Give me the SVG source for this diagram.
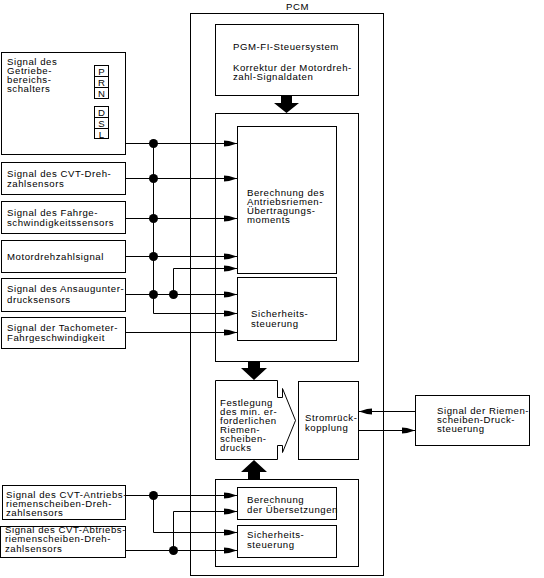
<svg xmlns="http://www.w3.org/2000/svg" width="544" height="578" viewBox="0 0 544 578">
<style>
.b{fill:#fff;stroke:#000;stroke-width:1}
.t{font-family:"Liberation Sans",Arial,sans-serif;font-size:9.6px;letter-spacing:0.55px;fill:#000}
.c{fill:none;stroke:#000;stroke-width:1}
.k{fill:#000;stroke:none}
</style>
<defs>
<marker id="ah" markerWidth="13" markerHeight="8" refX="13" refY="4" orient="auto" markerUnits="userSpaceOnUse">
<path d="M0,1 L5,1.5 L13,4 L5,6.5 L0,7 Z" fill="#000"/>
</marker>
</defs>
<rect width="544" height="578" fill="#fff"/>

<g id="pcm">
<rect class="b" x="190.5" y="13.5" width="193" height="562"/>
<text class="t" x="286" y="10">PCM</text>
</g>

<g id="pgm">
<rect class="b" x="215.5" y="24.5" width="143" height="71"/>
<text class="t" x="233" y="50">PGM-FI-Steuersystem</text>
<text class="t" x="233" y="71">Korrektur der Motordreh-</text>
<text class="t" x="233" y="80">zahl-Signaldaten</text>
</g>

<g id="upperBlock">
<rect class="b" x="215.5" y="113.5" width="143" height="248"/>
</g>
<g id="berechnungMoment">
<rect class="b" x="237.5" y="126.5" width="99" height="147"/>
<text class="t" x="247" y="196">Berechnung des</text>
<text class="t" x="247" y="205">Antriebsriemen-</text>
<text class="t" x="247" y="214">Übertragungs-</text>
<text class="t" x="247" y="223">moments</text>
</g>
<g id="sicherheit1">
<rect class="b" x="237.5" y="277.5" width="99" height="63"/>
<text class="t" x="251" y="317">Sicherheits-</text>
<text class="t" x="251" y="327">steuerung</text>
</g>

<g id="festlegung">
<path class="b" d="M215.5,380.5 H277.5 V397.5 H282.5 V388.5 L295.5,420.5 L282.5,452.5 V445.5 H277.5 V459.5 H215.5 Z"/>
<text class="t" x="220" y="406">Festlegung</text>
<text class="t" x="220" y="415">des min. er-</text>
<text class="t" x="220" y="424">forderlichen</text>
<text class="t" x="220" y="433">Riemen-</text>
<text class="t" x="220" y="442">scheiben-</text>
<text class="t" x="220" y="451">drucks</text>
</g>

<g id="strom">
<rect class="b" x="298.5" y="381.5" width="60" height="78"/>
<text class="t" x="305" y="421">Stromrück-</text>
<text class="t" x="305" y="431">kopplung</text>
</g>

<g id="riemenSignal">
<rect class="b" x="415.5" y="395.5" width="114" height="50"/>
<text class="t" x="437" y="414">Signal der Riemen-</text>
<text class="t" x="437" y="423">scheiben-Druck-</text>
<text class="t" x="437" y="432">steuerung</text>
</g>

<g id="lowerBlock">
<rect class="b" x="215.5" y="479.5" width="143" height="87"/>
</g>
<g id="berechnungUeb">
<rect class="b" x="237.5" y="487.5" width="99" height="32"/>
<text class="t" x="247" y="503">Berechnung</text>
<text class="t" x="247" y="513">der Übersetzungen</text>
</g>
<g id="sicherheit2">
<rect class="b" x="237.5" y="525.5" width="99" height="32"/>
<text class="t" x="247" y="538">Sicherheits-</text>
<text class="t" x="247" y="548">steuerung</text>
</g>

<g id="sig1">
<rect class="b" x="1.5" y="52.5" width="124" height="102"/>
<text class="t" x="7" y="65">Signal des</text>
<text class="t" x="7" y="74">Getriebe-</text>
<text class="t" x="7" y="83">bereichs-</text>
<text class="t" x="7" y="92">schalters</text>
<rect class="b" x="94.5" y="65.5" width="14" height="11"/>
<rect class="b" x="94.5" y="76.5" width="14" height="11"/>
<rect class="b" x="94.5" y="87.5" width="14" height="11"/>
<rect class="b" x="94.5" y="106.5" width="14" height="11"/>
<rect class="b" x="94.5" y="117.5" width="14" height="11"/>
<rect class="b" x="94.5" y="128.5" width="14" height="10"/>
<text class="t" x="101.8" y="75" text-anchor="middle">P</text>
<text class="t" x="101.8" y="86" text-anchor="middle">R</text>
<text class="t" x="101.8" y="97" text-anchor="middle">N</text>
<text class="t" x="101.8" y="116" text-anchor="middle">D</text>
<text class="t" x="101.8" y="127" text-anchor="middle">S</text>
<text class="t" x="101.8" y="137.5" text-anchor="middle">L</text>
</g>
<g id="sig2">
<rect class="b" x="1.5" y="162.5" width="124" height="32"/>
<text class="t" x="7" y="177">Signal des CVT-Dreh-</text>
<text class="t" x="7" y="187">zahlsensors</text>
</g>
<g id="sig3">
<rect class="b" x="1.5" y="201.5" width="124" height="32"/>
<text class="t" x="7" y="216">Signal des Fahrge-</text>
<text class="t" x="7" y="226">schwindigkeitssensors</text>
</g>
<g id="sig4">
<rect class="b" x="1.5" y="240.5" width="124" height="32"/>
<text class="t" x="7" y="260">Motordrehzahlsignal</text>
</g>
<g id="sig5">
<rect class="b" x="1.5" y="278.5" width="124" height="33"/>
<text class="t" x="7" y="292">Signal des Ansaugunter-</text>
<text class="t" x="7" y="303">drucksensors</text>
</g>
<g id="sig6">
<rect class="b" x="1.5" y="317.5" width="124" height="31"/>
<text class="t" x="7" y="331">Signal der Tachometer-</text>
<text class="t" x="7" y="341">Fahrgeschwindigkeit</text>
</g>
<g id="sig7">
<rect class="b" x="2.5" y="485.5" width="123" height="34"/>
<text class="t" x="6" y="498">Signal des CVT-Antriebs-</text>
<text class="t" x="6" y="507">riemenscheiben-Dreh-</text>
<text class="t" x="6" y="516">zahlsensors</text>
</g>
<g id="sig8">
<rect class="b" x="0.5" y="526.5" width="125" height="31"/>
<text class="t" x="5" y="533">Signal des CVT-Abtriebs-</text>
<text class="t" x="5" y="542">riemenscheiben-Dreh-</text>
<text class="t" x="5" y="552">zahlsensors</text>
</g>

<g id="connectors">
<path class="c" d="M126,143.5 H237" marker-end="url(#ah)"/>
<path class="c" d="M126,178.5 H237" marker-end="url(#ah)"/>
<path class="c" d="M126,218.5 H237" marker-end="url(#ah)"/>
<path class="c" d="M126,256.5 H237" marker-end="url(#ah)"/>
<path class="c" d="M126,294.5 H237" marker-end="url(#ah)"/>
<path class="c" d="M126,332.5 H237" marker-end="url(#ah)"/>
<path class="c" d="M153.5,143.5 V313.5 H237" marker-end="url(#ah)"/>
<path class="c" d="M173.5,294.5 V268.5 H237" marker-end="url(#ah)"/>
<circle class="k" cx="153.5" cy="143.5" r="4.5"/>
<circle class="k" cx="153.5" cy="178.5" r="4.5"/>
<circle class="k" cx="153.5" cy="218.5" r="4.5"/>
<circle class="k" cx="153.5" cy="256.5" r="4.5"/>
<circle class="k" cx="153.5" cy="294.5" r="4.5"/>
<circle class="k" cx="173.5" cy="294.5" r="4.5"/>

<path class="c" d="M126,495.5 H237" marker-end="url(#ah)"/>
<path class="c" d="M126,550.5 H237" marker-end="url(#ah)"/>
<path class="c" d="M153.5,495.5 V532.5 H237" marker-end="url(#ah)"/>
<path class="c" d="M173.5,550.5 V511.5 H237" marker-end="url(#ah)"/>
<circle class="k" cx="153.5" cy="495.5" r="4.5"/>
<circle class="k" cx="173.5" cy="550.5" r="4.5"/>

<path class="c" d="M415,411.5 H359" marker-end="url(#ah)"/>
<path class="c" d="M359,430.5 H415" marker-end="url(#ah)"/>

<path class="k" d="M281,96 H292 V103 H299 L286.5,113 L274,103 H281 Z"/>
<path class="k" d="M248,362 H260 V368 H267 L254,380 L241,368 H248 Z"/>
<path class="k" d="M254,460 L267,472 H260 V479 H248 V472 H241 Z"/>
</g>
</svg>
